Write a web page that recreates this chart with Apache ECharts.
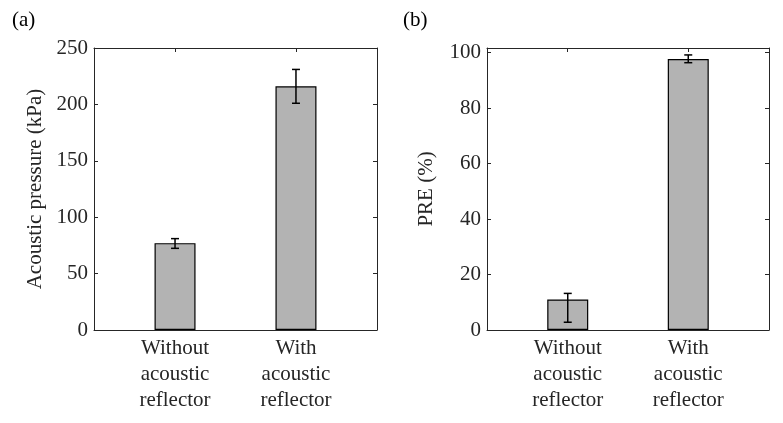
<!DOCTYPE html>
<html lang="en">
<head>
<meta charset="UTF-8">
<title>Acoustic reflector bars</title>
<script src="https://cdn.jsdelivr.net/npm/echarts@6/dist/echarts.min.js"></script>
<style>
  html, body { margin: 0; padding: 0; background: #fff; }
  #main { width: 783px; height: 423px; }
</style>
</head>
<body>
<div id="main"></div>
<script>
// data
var categories = ['Without\nacoustic\nreflector', 'With\nacoustic\nreflector'];
var catPos = [1, 2];
var pressure = [77, 216];
var pressureLow = [72.4, 201];
var pressureHigh = [81, 231];
var pre = [11, 97.7];
var preLow = [2.8, 96.4];
var preHigh = [13.2, 99.2];
var pressureTicks = [0, 50, 100, 150, 200, 250];
var preTicks = [0, 20, 40, 60, 80, 100];

var FONT = "'Liberation Serif', 'Times New Roman', serif";
var INK = '#262626';

var chart = echarts.init(document.getElementById('main'));

function pairs(ys) {
  return catPos.map(function (x, i) { return [x, ys[i]]; });
}
function errData(lo, hi) {
  return catPos.map(function (x, i) { return [x, lo[i], hi[i]]; });
}

// vertical whisker with small caps
function renderErr(params, api) {
  var x = api.value(0);
  var top = api.coord([x, api.value(2)]);
  var bot = api.coord([x, api.value(1)]);
  var w = 4;
  var st = { stroke: '#000', lineWidth: 1.5 };
  return {
    type: 'group',
    children: [
      { type: 'line', shape: { x1: top[0], y1: top[1], x2: bot[0], y2: bot[1] }, style: st },
      { type: 'line', shape: { x1: top[0] - w, y1: top[1], x2: top[0] + w, y2: top[1] }, style: st },
      { type: 'line', shape: { x1: bot[0] - w, y1: bot[1], x2: bot[0] + w, y2: bot[1] }, style: st }
    ]
  };
}

function xAxes(gi) {
  return [{
    type: 'value', gridIndex: gi, min: 0.33, max: 2.67, position: 'bottom',
    axisLine: { show: true, onZero: false, lineStyle: { color: INK, width: 1 } },
    axisTick: { show: true, inside: true, length: 4, customValues: catPos, lineStyle: { color: INK } },
    axisLabel: {
      customValues: catPos, margin: 5, color: INK, fontFamily: FONT, fontSize: 21, lineHeight: 26,
      formatter: function (v) { return categories[catPos.indexOf(v)]; }
    },
    splitLine: { show: false }
  }, {
    type: 'value', gridIndex: gi, min: 0.33, max: 2.67, position: 'top',
    axisLine: { show: true, onZero: false, lineStyle: { color: INK, width: 1 } },
    axisTick: { show: true, inside: true, length: 4, customValues: catPos, lineStyle: { color: INK } },
    axisLabel: { show: false },
    splitLine: { show: false }
  }];
}

function yAxes(gi, max, ticks, name, gap) {
  return [{
    type: 'value', gridIndex: gi, min: 0, max: max, position: 'left',
    name: name, nameLocation: 'middle', nameGap: gap,
    nameTextStyle: { color: INK, fontFamily: FONT, fontSize: 21 },
    axisLine: { show: true, onZero: false, lineStyle: { color: INK, width: 1 } },
    axisTick: { show: true, inside: true, length: 4, customValues: ticks, lineStyle: { color: INK } },
    axisLabel: { customValues: ticks, margin: 6, color: INK, fontFamily: FONT, fontSize: 21 },
    splitLine: { show: false }
  }, {
    type: 'value', gridIndex: gi, min: 0, max: max, position: 'right',
    axisLine: { show: true, onZero: false, lineStyle: { color: INK, width: 1 } },
    axisTick: { show: true, inside: true, length: 4, customValues: ticks, lineStyle: { color: INK } },
    axisLabel: { show: false },
    splitLine: { show: false }
  }];
}

var barStyle = { color: '#b3b3b3', borderColor: '#000', borderWidth: 1.2 };

var option = {
  backgroundColor: '#fff',
  animation: false,
  textStyle: { fontFamily: FONT },
  grid: [
    { left: 94, right: 406, top: 48, bottom: 93 },
    { left: 487, right: 14, top: 48, bottom: 93 }
  ],
  xAxis: xAxes(0).concat(xAxes(1)),
  yAxis: yAxes(0, 250, pressureTicks, 'Acoustic pressure (kPa)', 48)
    .concat(yAxes(1, 101.7, preTicks, 'PRE (%)', 50)),
  graphic: [
    { type: 'text', left: 12, top: 10, style: { text: '(a)', font: '21px ' + FONT, fill: '#000' } },
    { type: 'text', left: 403, top: 10, style: { text: '(b)', font: '21px ' + FONT, fill: '#000' } }
  ],
  series: [
    { type: 'bar', xAxisIndex: 0, yAxisIndex: 0, barWidth: 41, data: pairs(pressure), itemStyle: barStyle },
    { type: 'custom', xAxisIndex: 0, yAxisIndex: 0, renderItem: renderErr, data: errData(pressureLow, pressureHigh), z: 5 },
    { type: 'bar', xAxisIndex: 2, yAxisIndex: 2, barWidth: 41, data: pairs(pre), itemStyle: barStyle },
    { type: 'custom', xAxisIndex: 2, yAxisIndex: 2, renderItem: renderErr, data: errData(preLow, preHigh), z: 5 }
  ]
};

chart.setOption(option);
</script>
</body>
</html>
